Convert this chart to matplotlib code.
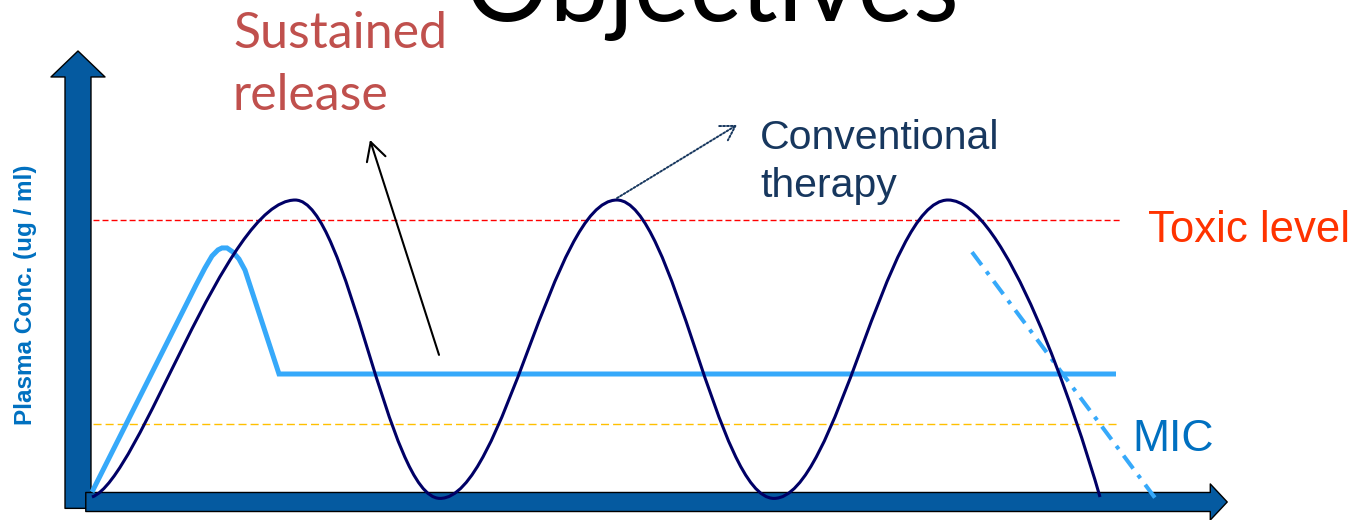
import matplotlib.pyplot as plt
from matplotlib.path import Path
from matplotlib.patches import PathPatch, FancyArrowPatch

# Tiempo (h) y concentración plasmática (ug/ml), escala arbitraria
toxic_level = 10.0
mic_level = 2.64

# Terapia convencional: extremos de cada tramo (picos y valles)
conv_t = [0.0, 5.08, 8.7, 13.12, 17.05, 21.4, 25.2]
conv_c = [0.0, 10.72, -0.05, 10.72, -0.05, 10.72, 0.0]
# forma de cada tramo: fracciones de los puntos de control de Bezier
conv_out = [(0.236, 0.057), (0.364, 0.0), (0.364, 0.0), (0.364, 0.0), (0.364, 0.0), (0.375, 0.0)]
conv_in = [(0.345, 0.0), (0.364, 0.0), (0.364, 0.0), (0.364, 0.0), (0.364, 0.0), (0.164, 0.29)]

# Liberación sostenida
sr_t = [0.0, 2.6, 2.825, 3.0, 3.15, 3.25, 3.375, 3.525, 3.675, 3.825, 4.675, 25.6]
sr_c = [0.18, 7.65, 8.27, 8.70, 8.92, 8.99, 8.99, 8.84, 8.59, 8.19, 4.44, 4.44]

# Caída por eliminación (línea punto-raya)
elim_t = [22.0, 26.58]
elim_c = [8.84, -0.04]

navy = "#000066"
light_blue = "#36A9FA"
axis_blue = "#055AA0"

fig = plt.figure(figsize=(13.56, 5.2), dpi=100)
ax = fig.add_axes([0, 0, 1, 1])
ax.set_xlim(-2.3, 31.6)
ax.set_ylim(-0.83, 17.94)
ax.axis("off")

# Ejes con forma de flecha
y_arrow = FancyArrowPatch((-0.35, -0.51), (-0.35, 16.2),
                          arrowstyle="Simple,tail_width=18.7,head_width=38.9,head_length=18.7",
                          mutation_scale=1, fc=axis_blue, ec="black", lw=1, zorder=1)
x_arrow = FancyArrowPatch((-0.225, -0.18), (28.45, -0.18),
                          arrowstyle="Simple,tail_width=13.7,head_width=26,head_length=12.2",
                          mutation_scale=1, fc=axis_blue, ec="black", lw=1, zorder=2)
ax.add_patch(y_arrow)
ax.add_patch(x_arrow)

# Niveles tóxico y MIC
ax.plot([0.03, 25.7], [toxic_level, toxic_level], color="#FF0000", lw=1, dashes=(4.3, 2.2), zorder=3)
ax.plot([0.03, 25.7], [mic_level, mic_level], color="#FFC000", lw=1, dashes=(5.8, 2.9), zorder=3)

# Curva de liberación sostenida
ax.plot(sr_t, sr_c, color=light_blue, lw=3.6, solid_joinstyle="miter", solid_capstyle="butt", zorder=4)
ax.plot(elim_t, elim_c, color=light_blue, lw=2.9, dashes=(4, 2, 1, 2), zorder=4)

# Curva de terapia convencional
verts = [(conv_t[0], conv_c[0])]
codes = [Path.MOVETO]
for i in range(len(conv_t) - 1):
    t0, c0, t1, c1 = conv_t[i], conv_c[i], conv_t[i + 1], conv_c[i + 1]
    dt, dc = t1 - t0, c1 - c0
    a, b = conv_out[i]
    d, e = conv_in[i]
    verts += [(t0 + a * dt, c0 + b * dc), (t1 - d * dt, c1 - e * dc), (t1, c1)]
    codes += [Path.CURVE4] * 3
ax.add_patch(PathPatch(Path(verts, codes), fill=False, ec=navy, lw=2.2, zorder=5))

# Flechas de anotación
ax.annotate("", xy=(6.95, 12.89), xytext=(8.675, 5.13),
            arrowprops=dict(arrowstyle="->,head_length=0.65,head_width=0.35", mutation_scale=20,
                            color="black", lw=1.5, shrinkA=0, shrinkB=0), zorder=6)
ax.annotate("", xy=(16.125, 13.43), xytext=(13.125, 10.79),
            arrowprops=dict(arrowstyle="->,head_length=0.5,head_width=0.3", mutation_scale=20,
                            color="#17375E", lw=1.4, ls=(0, (1, 1)), shrinkA=0, shrinkB=0), zorder=6)

# Textos
ax.text(9.325, 17.2, "Objectives", fontsize=76, family="Lato", color="black", va="baseline")
ax.text(3.525, 16.21, "Sustained", fontsize=36, family="Lato", color="#C0504D", va="baseline")
ax.text(3.525, 13.97, "release", fontsize=36, family="Lato", color="#C0504D", va="baseline")
ax.text(16.7, 12.56, "Conventional", fontsize=29.5, family="Liberation Sans", color="#17375E", va="baseline")
ax.text(16.7, 10.83, "therapy", fontsize=29.5, family="Liberation Sans", color="#17375E", va="baseline")
ax.text(26.4, 9.21, "Toxic level", fontsize=31.5, family="Liberation Sans", color="#FF3300", va="baseline")
ax.text(26.0, 1.66, "MIC", fontsize=32, family="Liberation Sans", color="#0070C0", va="baseline")
ax.text(-1.67, 7.29, "Plasma Conc. (ug / ml)", fontsize=17.5, family="Liberation Sans", weight="bold",
        color="#0070C0", rotation=90, ha="center", va="center")

fig.savefig("out.png", dpi=100)
